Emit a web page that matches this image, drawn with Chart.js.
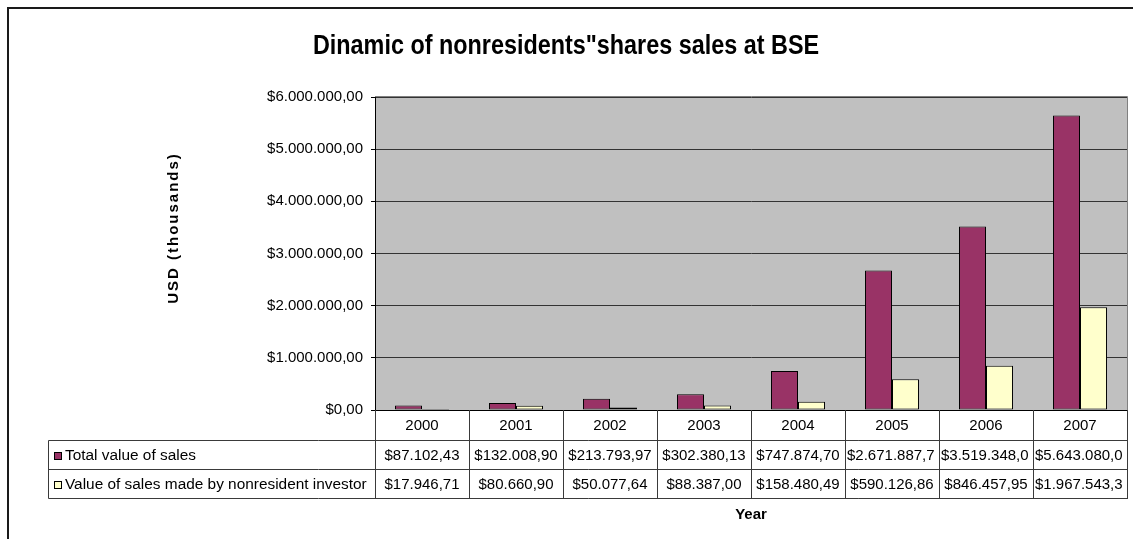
<!DOCTYPE html>
<html>
<head>
<meta charset="utf-8">
<script src="https://cdn.jsdelivr.net/npm/chart.js@4"></script>
<style>
  body { margin: 0; background: #fff; }
  canvas { display: block; }
</style>
</head>
<body>
<canvas id="bse_sales" width="1133" height="539"></canvas>
<script>
var chartTitle = 'Dinamic of nonresidents"shares sales at BSE';
var years = ['2000', '2001', '2002', '2003', '2004', '2005', '2006', '2007'];
var totalSales = [87102.43, 132008.90, 213793.97, 302380.13, 747874.70, 2671887.70, 3519348.00, 5643080.00];
var nonresidentSales = [17946.71, 80660.90, 50077.64, 88387.00, 158480.49, 590126.86, 846457.95, 1967543.30];
var seriesNames = ['Total value of sales', 'Value of sales made by nonresident investor'];
var seriesColors = ['#993366', '#FFFFCC'];

var FONT = '"Liberation Sans", Arial, sans-serif';

// 1234567.8 -> "$1.234.567,80"
function money(v) {
  var parts = v.toFixed(2).split('.');
  var whole = parts[0].replace(/\B(?=(\d{3})+(?!\d))/g, '.');
  return '$' + whole + ',' + parts[1];
}

var frameAndTable = {
  id: 'frameAndTable',
  beforeDraw: function(chart) {
    var ctx = chart.ctx, ca = chart.chartArea;
    ctx.save();
    ctx.fillStyle = '#C0C0C0';
    ctx.fillRect(ca.left, ca.top, ca.right - ca.left, ca.bottom - ca.top);
    ctx.restore();
  },
  afterDraw: function(chart) {
    var ctx = chart.ctx, ca = chart.chartArea;
    var n = years.length;
    var cw = (ca.right - ca.left) / n;
    var rows = [ca.bottom, ca.bottom + 30, ca.bottom + 59, ca.bottom + 88];
    var legendLeft = 48.5;
    ctx.save();

    // outer frame
    ctx.strokeStyle = '#1a1a1a';
    ctx.lineWidth = 2;
    ctx.beginPath();
    ctx.moveTo(8, 600); ctx.lineTo(8, 8); ctx.lineTo(1200, 8);
    ctx.stroke();

    // plot area border (top / right)
    ctx.lineWidth = 1;
    ctx.strokeStyle = '#808080';
    ctx.beginPath();
    ctx.moveTo(ca.left, Math.round(ca.top) - 0.5);
    ctx.lineTo(Math.round(ca.right) + 0.5, Math.round(ca.top) - 0.5);
    ctx.lineTo(Math.round(ca.right) + 0.5, ca.bottom);
    ctx.stroke();

    // title, condensed like the narrow bold face of the original
    ctx.save();
    ctx.fillStyle = '#000';
    ctx.font = 'bold 28px ' + FONT;
    ctx.textAlign = 'center';
    ctx.textBaseline = 'middle';
    ctx.translate(566, 46);
    ctx.scale(0.835, 1);
    ctx.fillText(chartTitle, 0, 0);
    ctx.restore();

    // table grid
    ctx.strokeStyle = '#3a3a3a';
    ctx.beginPath();
    for (var r = 1; r < rows.length; r++) {
      var y = Math.round(rows[r]) + 0.5;
      ctx.moveTo(legendLeft, y);
      ctx.lineTo(Math.round(ca.right) + 1, y);
    }
    ctx.moveTo(legendLeft, rows[1] + 0.5);
    ctx.lineTo(legendLeft, rows[3] + 0.5);
    for (var i = 0; i <= n; i++) {
      var x = Math.round(ca.left + i * cw) + 0.5;
      ctx.moveTo(x, rows[0]);
      ctx.lineTo(x, rows[3] + 0.5);
    }
    ctx.stroke();

    // category row
    ctx.fillStyle = '#000';
    ctx.font = '15px ' + FONT;
    ctx.textAlign = 'center';
    ctx.textBaseline = 'middle';
    for (var c = 0; c < n; c++) {
      ctx.fillText(years[c], chart.scales.x.getPixelForValue(c), (rows[0] + rows[1]) / 2 + 1);
    }

    // series rows
    var series = [totalSales, nonresidentSales];
    for (var s = 0; s < series.length; s++) {
      var cy = (rows[s + 1] + rows[s + 2]) / 2 + 1;
      ctx.fillStyle = seriesColors[s];
      ctx.fillRect(54, Math.round(cy) - 4, 8, 8);
      ctx.strokeStyle = '#000';
      ctx.strokeRect(54.5, Math.round(cy) - 3.5, 7, 7);
      ctx.fillStyle = '#000';
      ctx.textAlign = 'left';
      ctx.font = '15.4px ' + FONT;
      ctx.fillText(seriesNames[s], 65, cy);
      ctx.font = '15px ' + FONT;
      for (var k = 0; k < n; k++) {
        var txt = money(series[s][k]);
        if (ctx.measureText(txt).width > cw - 4) {
          while (txt.length && ctx.measureText(txt).width > cw - 4) txt = txt.slice(0, -1);
          ctx.textAlign = 'left';
          ctx.fillText(txt, ca.left + k * cw + 2, cy);
        } else {
          ctx.textAlign = 'center';
          ctx.fillText(txt, chart.scales.x.getPixelForValue(k), cy);
        }
      }
    }

    // axis titles
    ctx.font = 'bold 15px ' + FONT;
    ctx.textAlign = 'center';
    ctx.fillText('Year', (ca.left + ca.right) / 2, 515);
    ctx.translate(174, 228);
    ctx.rotate(-Math.PI / 2);
    ctx.letterSpacing = '2px';
    ctx.fillText('USD (thousands)', 0, 0);
    ctx.restore();
  }
};

var ctx = document.getElementById('bse_sales').getContext('2d');
var salesChart = new Chart(ctx, {
  type: 'bar',
  data: {
    labels: years,
    datasets: [{
      label: seriesNames[0],
      backgroundColor: seriesColors[0],
      borderColor: '#000',
      borderWidth: 1,
      borderSkipped: false,
      data: totalSales
    }, {
      label: seriesNames[1],
      backgroundColor: seriesColors[1],
      borderColor: '#000',
      borderWidth: 1,
      borderSkipped: false,
      data: nonresidentSales
    }]
  },
  options: {
    responsive: false,
    animation: false,
    layout: { padding: { left: 0, right: 6, top: 97, bottom: 0 } },
    datasets: {
      bar: { categoryPercentage: 0.575, barPercentage: 1 }
    },
    plugins: {
      legend: { display: false },
      tooltip: { enabled: false },
      title: { display: false }
    },
    scales: {
      x: {
        ticks: { display: false },
        grid: { display: false },
        border: { color: '#000', width: 1 },
        afterFit: function(scale) { scale.height = 129; }
      },
      y: {
        min: 0,
        max: 6000000,
        ticks: {
          stepSize: 1000000,
          color: '#000',
          padding: 8,
          font: { family: FONT, size: 15 },
          callback: function(v) { return money(v); }
        },
        grid: { color: '#333', tickLength: 4, tickColor: '#000' },
        border: { color: '#000', width: 1 },
        afterFit: function(scale) { scale.width = 375; }
      }
    }
  },
  plugins: [frameAndTable]
});
</script>
</body>
</html>
